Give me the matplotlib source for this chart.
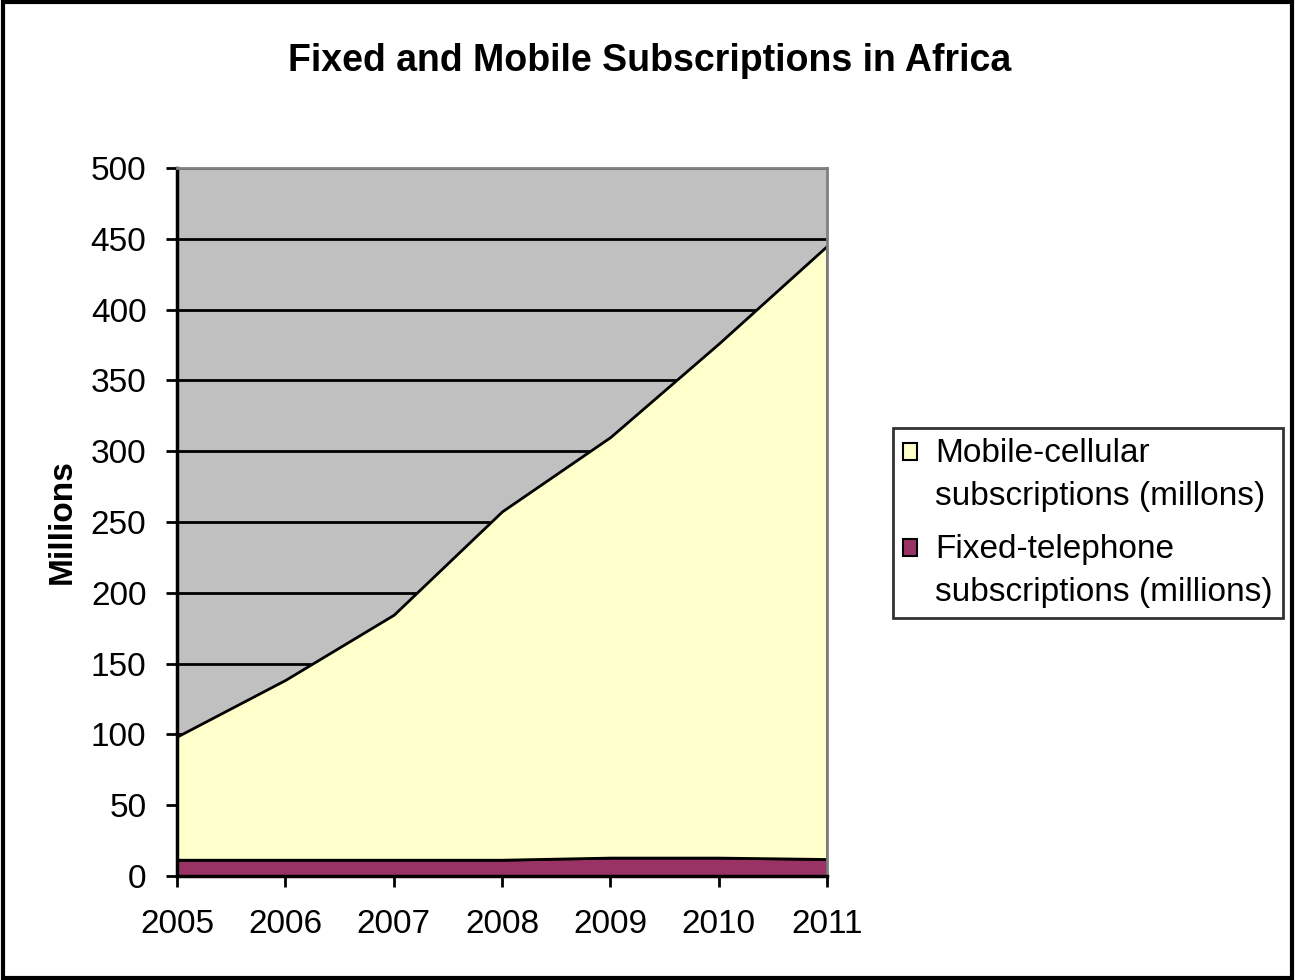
import matplotlib.pyplot as plt
from matplotlib.legend_handler import HandlerPatch
from matplotlib.patches import Rectangle

years = [2005, 2006, 2007, 2008, 2009, 2010, 2011]
fixed = [11.5, 11.5, 11.5, 11.5, 13, 13, 12]
mobile = [87, 127, 173, 246, 297, 363, 433]
yticks = list(range(0, 501, 50))
series_labels = ['Fixed-telephone\nsubscriptions (millions)',
                 'Mobile-cellular\nsubscriptions (millons)']

plt.rcParams['font.family'] = ['Liberation Sans', 'DejaVu Sans']
FS = 24

fig = plt.figure(figsize=(12.95, 9.8), dpi=100)
ax = fig.add_axes([177/1295, 1-876/980, 650/1295, 708/980])

# stacked area, fixed at the bottom
polys = ax.stackplot(years, fixed, mobile, colors=['#993366', '#FFFFCC'],
                     edgecolor='black', linewidth=2)

ax.set_facecolor('#C0C0C0')
ax.set_xlim(2005, 2011)
ax.set_ylim(0, 500)
ax.set_yticks(yticks)
ax.set_xticks(years)
ax.yaxis.grid(True, color='black', linewidth=2)
ax.set_axisbelow(True)
ax.tick_params(direction='out', length=8, width=2, labelsize=FS)
ax.tick_params(axis='x', pad=16)
ax.tick_params(axis='y', pad=14)
for s in ['left', 'bottom']:
    ax.spines[s].set_linewidth(2.5)
for s in ['top', 'right']:
    ax.spines[s].set_color('#808080')
    ax.spines[s].set_linewidth(2)

ax.set_ylabel('Millions', fontsize=FS, fontweight='bold')
ax.yaxis.set_label_coords((78-177)/650, 0.5)
fig.text(650/1295, 1-61/980, 'Fixed and Mobile Subscriptions in Africa',
         ha='center', va='center', fontsize=27, fontweight='bold')


# legend swatch sits next to the first line of each label
def top_swatch(legend, orig_handle, xdescent, ydescent, width, height, fontsize):
    return Rectangle((-xdescent, -ydescent + fontsize*0.7), width, height)


handles = [Rectangle((0, 0), 1, 1, facecolor=p.get_facecolor()[0],
                     edgecolor='black', linewidth=1.5) for p in polys]
leg = fig.legend(handles[::-1], series_labels[::-1], loc='upper left',
                 bbox_to_anchor=(893/1295, 1-428/980), fontsize=FS,
                 frameon=True, fancybox=False, edgecolor='black',
                 handlelength=0.42, handleheight=0.42, handletextpad=0.55,
                 labelspacing=0.65, borderpad=0.3, borderaxespad=0,
                 handler_map={Rectangle: HandlerPatch(patch_func=top_swatch)})
leg.get_frame().set_linewidth(2)
for t in leg.get_texts():
    t.set_linespacing(1.5)

# outer frame
fig.patches.append(Rectangle((0.002, 0.002), 0.996, 0.996, transform=fig.transFigure,
                             fill=False, edgecolor='black', linewidth=3))

fig.savefig('out.png', dpi=100)
